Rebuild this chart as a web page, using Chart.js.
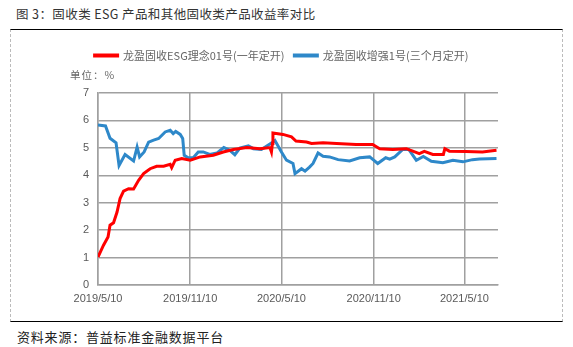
<!DOCTYPE html>
<html lang="zh">
<head>
<meta charset="UTF-8">
<title>固收类ESG产品收益率对比</title>
<script src="https://cdn.jsdelivr.net/npm/chart.js"></script>
<style>
    body {
        margin: 0;
        width: 573px;
        height: 347px;
        background: #fff;
        font-family: 'Noto Sans CJK SC', sans-serif;
        position: relative;
        overflow: hidden;
    }
    .title {
        position: absolute;
        left: 16px;
        top: 4px;
        font-size: 12.5px;
        color: #333;
        letter-spacing: 0.4px;
    }
    .frame {
        position: absolute;
        left: 10px;
        top: 29px;
        width: 551px;
        height: 291px;
        border-top: 1.5px solid #000;
        border-bottom: 1.5px solid #000;
        border-left: 1px dashed #bbb;
        border-right: 1px dashed #bbb;
    }
    .unit {
        position: absolute;
        left: 70px;
        top: 67px;
        font-size: 10.5px;
        color: #666;
        letter-spacing: 1px;
    }
    .source {
        position: absolute;
        left: 17px;
        top: 327px;
        font-size: 13px;
        color: #222;
        letter-spacing: 0.8px;
    }
    .chart-box {
        position: absolute;
        left: 10px;
        top: 30px;
        width: 552px;
        height: 290px;
    }
</style>
</head>
<body>
<div class="title">图 3：固收类 ESG 产品和其他固收类产品收益率对比</div>
<div class="frame"></div>
<div class="chart-box"><canvas id="yieldChart"></canvas></div>
<div class="unit">单位：%</div>
<div class="source">资料来源：普益标准金融数据平台</div>

<script>
    // x values are days counted from 2019/5/10
    const esgDays = [0, 11, 20, 24, 31, 38, 44, 51, 61, 71, 81, 91, 104, 117, 131, 144, 147, 154, 167, 184,
        204, 230, 250, 270, 297, 323, 343, 346, 348, 349, 369, 386, 395, 416, 426, 449, 476, 515, 548, 562,
        588, 615, 628, 641, 651, 668, 689, 692, 701, 734, 767, 795];
    const esgYield = [1.02, 1.45, 1.75, 2.18, 2.27, 2.66, 3.15, 3.42, 3.51, 3.50, 3.82, 4.06, 4.24, 4.33, 4.33, 4.40, 4.28, 4.55, 4.61, 4.55,
        4.67, 4.73, 4.85, 4.94, 5.01, 4.97, 5.01, 4.85, 5.16, 5.54, 5.49, 5.40, 5.25, 5.21, 5.16, 5.19, 5.16, 5.12, 5.12, 4.97,
        4.94, 4.97, 4.88, 4.79, 4.87, 4.76, 4.76, 4.97, 4.88, 4.87, 4.85, 4.91];

    const enhDays = [0, 15, 24, 36, 42, 54, 71, 78, 83, 92, 101, 111, 121, 134, 144, 150, 155, 164, 169, 172,
        180, 190, 200, 210, 223, 237, 251, 263, 273, 283, 300, 310, 326, 336, 349, 353, 366, 376, 389, 393,
        406, 413, 422, 429, 439, 449, 462, 479, 502, 522, 542, 550, 558, 574, 582, 592, 608, 620, 635, 649,
        665, 688, 708, 728, 747, 761, 795];
    const enhYield = [5.83, 5.80, 5.35, 5.18, 4.36, 4.76, 4.52, 5.03, 4.67, 4.85, 5.21, 5.28, 5.34, 5.58, 5.64, 5.52, 5.60, 5.49, 5.34, 4.73,
        4.64, 4.64, 4.85, 4.85, 4.76, 4.81, 5.01, 4.91, 4.75, 4.99, 5.07, 4.97, 4.94, 5.06, 5.21, 5.27, 4.85, 4.55, 4.43, 4.06,
        4.24, 4.15, 4.30, 4.43, 4.81, 4.69, 4.67, 4.57, 4.52, 4.64, 4.67, 4.55, 4.43, 4.64, 4.59, 4.67, 4.94, 4.94, 4.55, 4.69,
        4.51, 4.46, 4.55, 4.49, 4.57, 4.59, 4.61];

    const seriesNames = ['龙盈固收ESG理念01号(一年定开)', '龙盈固收增强1号(三个月定开)'];
    const tickDays = [0, 184, 366, 550, 731];
    const tickLabels = ['2019/5/10', '2019/11/10', '2020/5/10', '2020/11/10', '2021/5/10'];

    const toPoints = (xs, ys) => xs.map((x, i) => ({ x: x, y: ys[i] }));

    // makes room under the legend for the unit label
    const legendGap = {
        id: 'legendGap',
        beforeInit(chart) {
            const fit = chart.legend.fit;
            chart.legend.fit = function () {
                fit.call(this);
                this.height += 22;
            };
        }
    };

    new Chart(document.getElementById('yieldChart'), {
        type: 'line',
        data: {
            datasets: [{
                label: seriesNames[0],
                data: toPoints(esgDays, esgYield),
                borderColor: '#ff0000',
                backgroundColor: '#ff0000',
                borderWidth: 3,
                pointRadius: 0,
                tension: 0
            }, {
                label: seriesNames[1],
                data: toPoints(enhDays, enhYield),
                borderColor: '#2e88c9',
                backgroundColor: '#2e88c9',
                borderWidth: 3,
                pointRadius: 0,
                tension: 0
            }]
        },
        options: {
            responsive: true,
            maintainAspectRatio: false,
            animation: false,
            layout: { padding: { top: 10, left: 55, right: 64, bottom: 0 } },
            plugins: {
                tooltip: { enabled: false },
                legend: {
                    labels: {
                        boxWidth: 23,
                        boxHeight: 1,
                        padding: 10,
                        color: '#666',
                        font: { family: "'Noto Sans CJK SC'", size: 11 }
                    }
                }
            },
            scales: {
                x: {
                    type: 'linear',
                    min: 0,
                    max: 798,
                    afterBuildTicks: axis => {
                        axis.ticks = tickDays.map(v => ({ value: v }));
                    },
                    afterFit: scale => { scale.height = 35; },
                    ticks: {
                        padding: 7,
                        color: '#595959',
                        font: { family: "'Liberation Sans'", size: 11 },
                        maxRotation: 0,
                        autoSkip: false,
                        callback: v => tickLabels[tickDays.indexOf(v)]
                    },
                    grid: { color: '#a0a0a0', lineWidth: 1.5, drawTicks: false },
                    border: { color: '#a0a0a0', width: 1.5 }
                },
                y: {
                    min: 0,
                    max: 7,
                    afterFit: scale => { scale.width = 33; },
                    ticks: {
                        stepSize: 1,
                        padding: 9,
                        color: '#595959',
                        font: { family: "'Liberation Sans'", size: 11 }
                    },
                    grid: { color: '#a0a0a0', lineWidth: 1.5, drawTicks: false },
                    border: { color: '#a0a0a0', width: 1.5 }
                }
            }
        },
        plugins: [legendGap]
    });
</script>
</body>
</html>
